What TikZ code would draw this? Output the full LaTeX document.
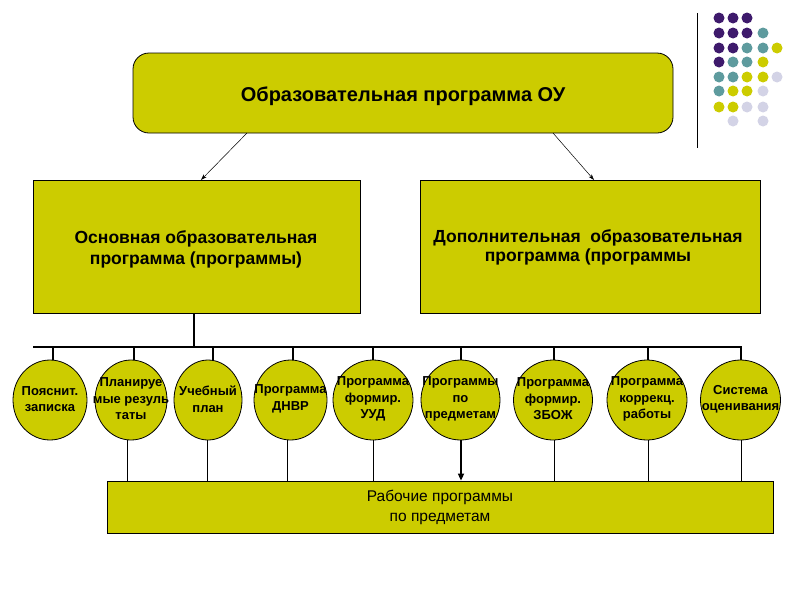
\documentclass[tikz,border=0pt]{standalone}
\usepackage{fontspec}
\setmainfont{Liberation Sans}
\usetikzlibrary{arrows.meta,shapes.geometric}
\definecolor{boxfill}{RGB}{204,204,0}
\definecolor{dpurple}{RGB}{62,26,108}
\definecolor{dteal}{RGB}{94,155,158}
\definecolor{dyellow}{RGB}{204,204,0}
\definecolor{dlav}{RGB}{211,211,230}
\begin{document}
\begin{tikzpicture}[x=1pt,y=-1pt,
  box/.style={draw=black, fill=boxfill, line width=0.8pt, inner sep=0pt},
  circ/.style={draw=black, fill=boxfill, line width=0.8pt, ellipse, inner sep=0pt, minimum height=80pt},
  ctext/.style={align=center, font=\fontsize{13}{16.5}\selectfont\bfseries, inner sep=0pt},
  thinarrow/.style={line width=0.5pt, -{Stealth[length=6pt,width=4pt]}},
  bus/.style={line width=2.2pt},
  drop/.style={line width=1.6pt},
  dot/.style={circle, inner sep=0pt, minimum size=11pt}
]
\useasboundingbox[fill=white] (0,0) rectangle (800,600);

% decoration: vertical line and dot grid
\coordinate (vlT) at (697,13);
\coordinate (vlB) at (697,148);
\draw[line width=1pt] (vlT) -- (vlB);
\foreach \x/\y/\c [count=\i] in {
  719/18/dpurple, 733/18/dpurple, 747/18/dpurple,
  719/33/dpurple, 733/33/dpurple, 747/33/dpurple, 763/33/dteal,
  719/48/dpurple, 733/48/dpurple, 747/48/dteal, 763/48/dteal, 777/48/dyellow,
  719/62/dpurple, 733/62/dteal, 747/62/dteal, 763/62/dyellow,
  719/77/dteal, 733/77/dteal, 747/77/dyellow, 763/77/dyellow, 777/77/dlav,
  719/91/dteal, 733/91/dyellow, 747/91/dyellow, 763/91/dlav,
  719/107/dyellow, 733/107/dyellow, 747/107/dlav, 763/107/dlav,
  733/121/dlav, 763/121/dlav}
  \node[dot, fill=\c] (d\i) at (\x,\y) {};

% top box
\node[box, rounded corners=16pt, minimum width=540pt, minimum height=80pt] (top) at (403,93) {};
\node[font=\fontsize{20}{24}\selectfont\bfseries, inner sep=0pt] (toptext) at (403,96)
      {Образовательная программа ОУ};

% middle boxes
\node[box, minimum width=327pt, minimum height=133pt] (left) at (196.5,246.5) {};
\node[align=center, inner sep=0pt, font=\fontsize{17.5}{21}\selectfont\bfseries] (lefttext) at (196,249.5)
      {Основная образовательная\\программа (программы)};
\node[box, minimum width=340pt, minimum height=133pt] (right) at (590,246.5) {};
\node[align=center, inner sep=0pt, font=\fontsize{17.5}{19.5}\selectfont\bfseries] (righttext) at (588,247.5)
      {Дополнительная\ \ образовательная\\программа (программы};

\coordinate (tl) at (247,133);
\coordinate (tr) at (553,133);
\coordinate (ll) at (201,180);
\coordinate (rr) at (594,180);
\draw[thinarrow] (tl) -- (ll);
\draw[thinarrow] (tr) -- (rr);

% bus
\coordinate (busL) at (33,347);
\coordinate (busR) at (742,347);
\coordinate (stem) at (194,347);
\draw[drop] (left.south -| stem) -- (stem);
\draw[bus] (busL) -- (busR);

% circles
\foreach \n/\x/\w in {1/50/74, 2/131/72, 3/208/68, 4/290.5/73, 5/373/80, 6/460.5/79, 7/553/79, 8/647/80, 9/740.5/80}
  \node[circ, minimum width=\w pt] (c\n) at (\x,400) {};

\node[ctext] (t1) at ([yshift=1pt]c1) {Пояснит.\\записка};
\node[ctext] (t2) at ([yshift=1pt]c2) {Планируе\\мые резуль\\таты};
\node[ctext] (t3) at ([yshift=1pt]c3) {Учебный\\план};
\node[ctext] (t4) at ([yshift=1pt]c4) {Программа\\ДНВР};
\node[ctext] (t5) at ([yshift=1pt]c5) {Программа\\формир.\\УУД};
\node[ctext] (t6) at ([yshift=1pt]c6) {Программы\\по\\предметам};
\node[ctext] (t7) at ([yshift=1pt]c7) {Программа\\формир.\\ЗБОЖ};
\node[ctext] (t8) at ([yshift=1pt]c8) {Программа\\коррекц.\\работы};
\node[ctext] (t9) at ([yshift=1pt]c9) {Система\\оценивания};

\foreach \n/\dx in {1/3,2/3,3/5,4/2.5,5/0,6/0.5,7/1,8/1,9/0.5}
  \draw[drop] ([xshift=\dx pt]c\n.north |- busL) -- ([xshift=\dx pt]c\n.north);

% bottom box
\node[box, minimum width=666pt, minimum height=52pt] (bot) at (440,507) {};
\node[align=center, inner sep=0pt, font=\fontsize{15.5}{20}\selectfont] (bottext) at (440,507.5)
      {Рабочие программы\\по предметам};

\foreach \n/\dx in {2/-3.5,3/-1,4/-3.5,5/0,7/1,8/1,9/0.5}
  \draw[line width=0.8pt] ([xshift=\dx pt]c\n.south) -- ([xshift=\dx pt]c\n.south |- bot.north);
\draw[line width=1.6pt, -{Triangle[length=7pt,width=6pt]}] ([xshift=0.5pt]c6.south) -- ([xshift=0.5pt]c6.south |- bot.north);
\end{tikzpicture}
\end{document}
